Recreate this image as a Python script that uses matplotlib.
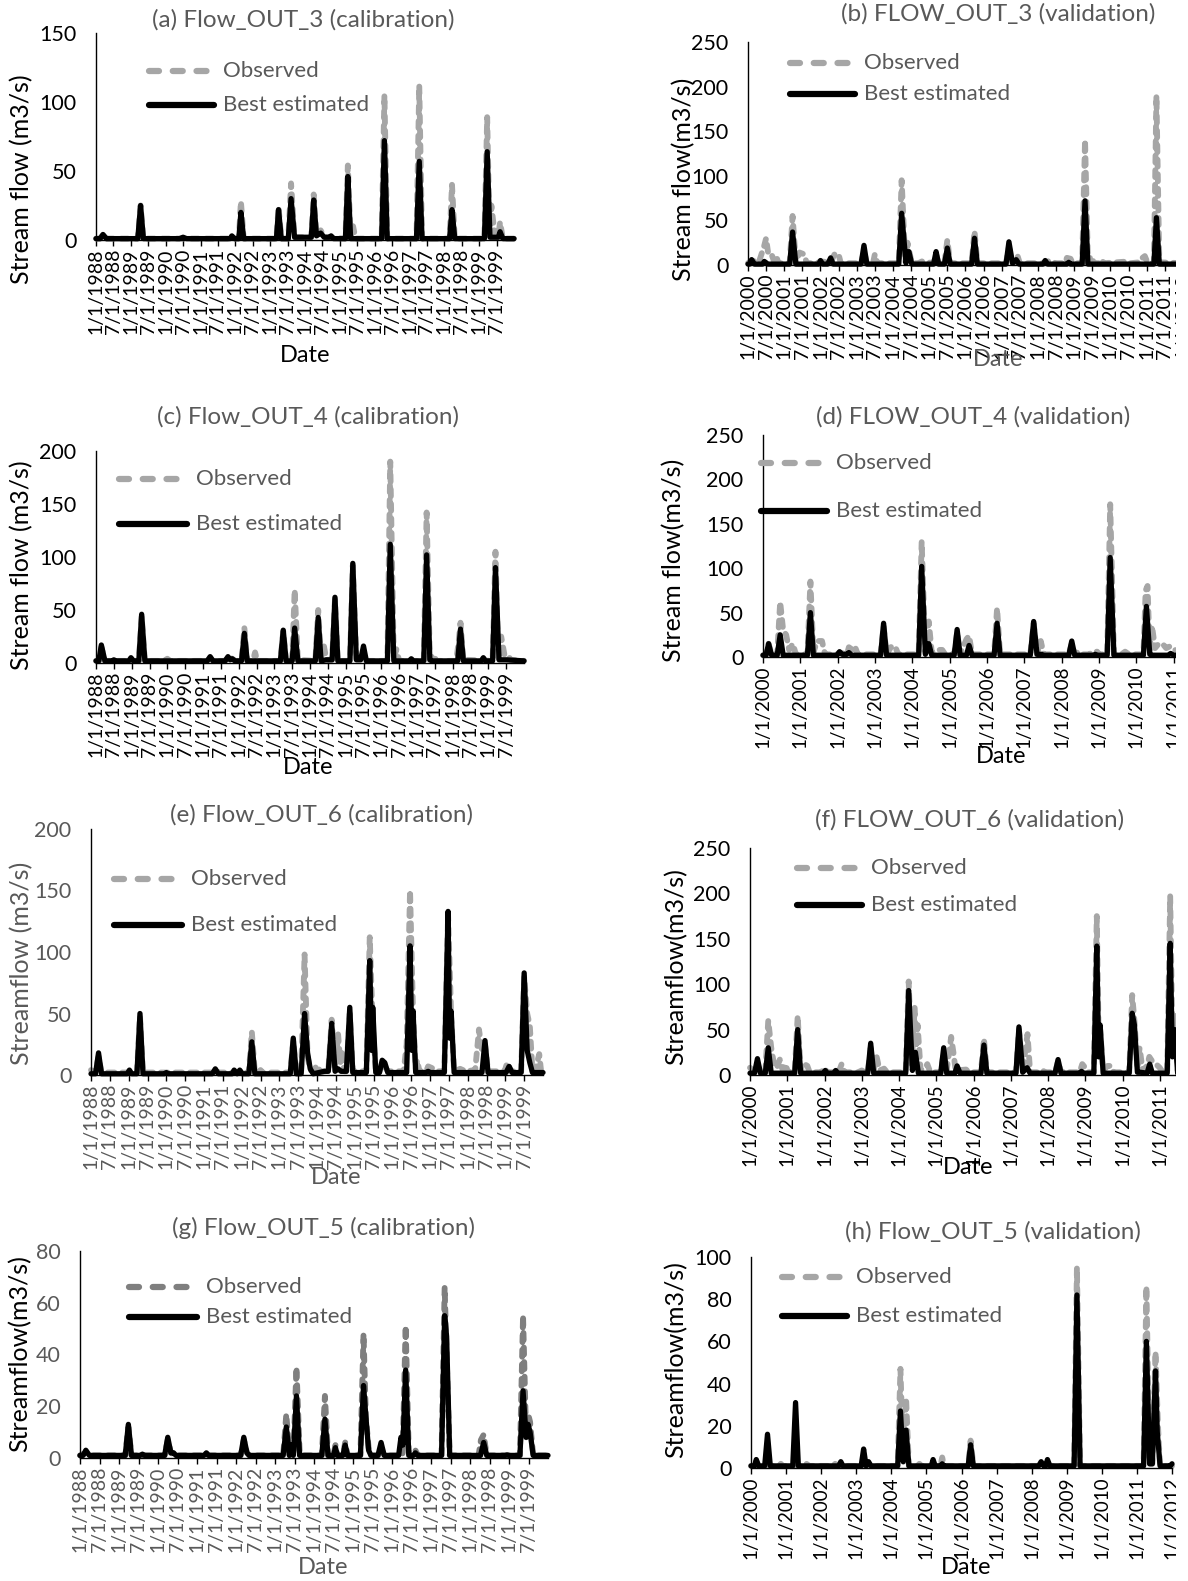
import matplotlib.pyplot as plt
from matplotlib.lines import Line2D
from matplotlib.patches import Rectangle

plt.rcParams['font.family'] = ['Lato', 'DejaVu Sans']

# ---- data: (decimal year, flow m3/s) ----
sim_a = [(1988.0, 1), (1988.12, 1), (1988.2, 4), (1988.3, 1), (1989.2, 1), (1989.28, 25), (1989.36, 1),
         (1990.4, 1), (1990.5, 2), (1990.6, 1), (1991.85, 1), (1991.9, 3), (1991.98, 1),
         (1992.1, 1), (1992.16, 20), (1992.24, 1), (1993.18, 1), (1993.24, 22), (1993.32, 1),
         (1993.52, 1), (1993.6, 30), (1993.7, 2), (1994.18, 2), (1994.25, 29), (1994.33, 3),
         (1994.45, 5), (1994.55, 2), (1994.7, 2), (1994.75, 3), (1994.82, 1), (1995.16, 1),
         (1995.23, 46), (1995.31, 1), (1996.2, 1), (1996.28, 72), (1996.36, 1), (1997.2, 1),
         (1997.28, 57), (1997.36, 1), (1998.15, 1), (1998.22, 22), (1998.3, 1), (1999.15, 1),
         (1999.23, 64), (1999.31, 2), (1999.55, 2), (1999.6, 6), (1999.68, 1), (2000.0, 1)]
obs_a = [(1988.0, 1), (1988.12, 1), (1988.2, 4), (1988.3, 1), (1989.2, 1), (1989.28, 25), (1989.36, 1),
         (1992.1, 1), (1992.16, 28), (1992.24, 1), (1993.18, 1), (1993.24, 24), (1993.32, 1),
         (1993.52, 1), (1993.6, 41), (1993.7, 2), (1994.18, 2), (1994.25, 33), (1994.33, 3),
         (1994.45, 7), (1994.55, 2), (1995.16, 1), (1995.23, 54), (1995.31, 2), (1995.38, 10),
         (1995.45, 1), (1996.2, 1), (1996.28, 105), (1996.36, 1), (1997.2, 1), (1997.28, 112),
         (1997.36, 1), (1998.15, 1), (1998.22, 40), (1998.3, 1), (1999.15, 1), (1999.23, 89),
         (1999.3, 3), (1999.35, 25), (1999.45, 3), (1999.55, 3), (1999.6, 13), (1999.68, 1), (2000.0, 1)]

sim_b = [(2000.0, 1), (2000.05, 1), (2000.1, 6), (2000.18, 1), (2000.4, 1), (2000.45, 4), (2000.55, 1),
         (2001.15, 1), (2001.23, 37), (2001.32, 1), (2001.95, 1), (2002.0, 5), (2002.06, 1),
         (2002.2, 1), (2002.28, 8), (2002.35, 1), (2003.12, 1), (2003.2, 22), (2003.28, 1),
         (2004.16, 1), (2004.24, 58), (2004.36, 2), (2004.44, 15), (2004.52, 1), (2005.12, 1),
         (2005.19, 15), (2005.26, 1), (2005.42, 1), (2005.5, 19), (2005.58, 1), (2006.17, 1),
         (2006.25, 30), (2006.33, 1), (2007.12, 1), (2007.2, 26), (2007.3, 2), (2007.4, 6),
         (2007.48, 1), (2008.14, 1), (2008.2, 5), (2008.27, 1), (2008.8, 1), (2008.85, 3),
         (2008.9, 1), (2009.22, 1), (2009.3, 72), (2009.38, 1), (2011.2, 1), (2011.27, 53),
         (2011.35, 1), (2012.0, 1)]
obs_b = [(2000.0, 2), (2000.1, 5), (2000.3, 3), (2000.45, 22), (2000.5, 30), (2000.56, 12), (2000.65, 12),
         (2000.72, 4), (2000.78, 10), (2000.84, 2), (2001.15, 2), (2001.23, 55), (2001.32, 3),
         (2001.42, 14), (2001.55, 12), (2001.62, 2), (2001.9, 2), (2002.0, 4), (2002.28, 3),
         (2002.4, 13), (2002.5, 12), (2002.56, 2), (2003.12, 2), (2003.2, 15), (2003.28, 2),
         (2003.45, 2), (2003.5, 12), (2003.57, 2), (2004.16, 2), (2004.24, 95), (2004.34, 3),
         (2004.4, 25), (2004.52, 2), (2004.7, 2), (2004.8, 4), (2005.12, 2), (2005.19, 12),
         (2005.26, 2), (2005.42, 2), (2005.5, 28), (2005.58, 2), (2006.17, 2), (2006.25, 38),
         (2006.33, 2), (2007.12, 2), (2007.2, 20), (2007.3, 2), (2007.38, 2), (2007.44, 10),
         (2007.5, 2), (2008.24, 2), (2008.3, 5), (2008.5, 2), (2008.75, 2), (2008.8, 8),
         (2008.9, 7), (2008.96, 2), (2009.22, 2), (2009.3, 140), (2009.38, 3), (2009.46, 10),
         (2009.55, 2), (2009.7, 2), (2009.75, 6), (2009.82, 2), (2010.5, 4), (2010.55, 2),
         (2010.8, 3), (2010.85, 7), (2010.95, 10), (2011.02, 3), (2011.2, 2), (2011.27, 190),
         (2011.35, 3), (2012.0, 2)]

sim_c = [(1988.0, 2), (1988.08, 2), (1988.15, 17), (1988.25, 2), (1988.45, 2), (1988.5, 3), (1988.56, 2),
         (1988.92, 2), (1988.98, 5), (1989.05, 2), (1989.2, 2), (1989.28, 46), (1989.37, 2),
         (1991.12, 2), (1991.2, 6), (1991.28, 2), (1991.62, 2), (1991.7, 6), (1991.76, 3),
         (1991.82, 4), (1991.9, 2), (1992.08, 2), (1992.16, 28), (1992.24, 2), (1993.17, 2),
         (1993.25, 31), (1993.33, 2), (1993.5, 2), (1993.57, 33), (1993.66, 2), (1994.15, 2),
         (1994.23, 43), (1994.31, 2), (1994.45, 3), (1994.62, 3), (1994.7, 62), (1994.78, 2),
         (1995.12, 2), (1995.2, 94), (1995.3, 3), (1995.42, 3), (1995.5, 16), (1995.58, 2),
         (1996.17, 2), (1996.25, 112), (1996.35, 2), (1996.78, 2), (1996.84, 4), (1996.9, 2),
         (1997.19, 2), (1997.27, 102), (1997.36, 3), (1997.42, 2), (1998.14, 2), (1998.22, 32),
         (1998.3, 2), (1998.8, 2), (1998.86, 5), (1998.92, 2), (1999.12, 2), (1999.2, 90),
         (1999.3, 3), (1999.5, 3), (2000.0, 2)]
obs_c = [(1988.0, 2), (1988.08, 2), (1988.15, 15), (1988.25, 2), (1989.2, 2), (1989.28, 44), (1989.37, 2),
         (1989.9, 2), (1990.0, 4), (1990.08, 2), (1991.12, 2), (1991.2, 5), (1991.28, 2),
         (1991.62, 2), (1991.7, 6), (1991.82, 4), (1991.9, 2), (1992.08, 2), (1992.16, 33),
         (1992.24, 2), (1992.4, 2), (1992.46, 10), (1992.52, 2), (1993.17, 2), (1993.25, 30),
         (1993.33, 2), (1993.5, 2), (1993.57, 69), (1993.66, 3), (1994.15, 2), (1994.23, 50),
         (1994.31, 3), (1994.38, 18), (1994.46, 3), (1994.62, 3), (1994.7, 60), (1994.78, 2),
         (1995.12, 2), (1995.2, 92), (1995.3, 3), (1995.42, 3), (1995.5, 10), (1995.58, 2),
         (1996.17, 2), (1996.25, 190), (1996.35, 3), (1996.42, 13), (1996.5, 2), (1997.19, 2),
         (1997.27, 142), (1997.36, 3), (1997.46, 8), (1997.54, 2), (1998.1, 2), (1998.16, 18),
         (1998.22, 38), (1998.3, 3), (1998.4, 3), (1999.12, 2), (1999.2, 105), (1999.28, 3),
         (1999.36, 25), (1999.45, 8), (1999.55, 8), (1999.62, 3), (2000.0, 2)]

sim_d = [(2000.0, 2), (2000.08, 2), (2000.15, 15), (2000.23, 2), (2000.38, 2), (2000.46, 25), (2000.54, 2),
         (2001.19, 2), (2001.27, 50), (2001.35, 2), (2001.98, 2), (2002.05, 6), (2002.12, 3),
         (2002.25, 3), (2002.3, 5), (2002.38, 2), (2003.15, 2), (2003.23, 38), (2003.31, 2),
         (2004.17, 2), (2004.25, 102), (2004.35, 3), (2004.44, 15), (2004.52, 2), (2005.12, 2),
         (2005.2, 31), (2005.28, 2), (2005.45, 2), (2005.52, 13), (2005.6, 2), (2006.19, 2),
         (2006.27, 38), (2006.35, 2), (2007.16, 2), (2007.25, 40), (2007.34, 3), (2007.46, 3),
         (2007.52, 2), (2008.19, 2), (2008.27, 18), (2008.35, 2), (2008.85, 2), (2008.9, 3),
         (2008.96, 2), (2009.22, 2), (2009.3, 112), (2009.4, 2), (2010.19, 2), (2010.27, 57),
         (2010.36, 3), (2010.42, 2), (2010.85, 2), (2010.92, 4), (2011.0, 2), (2012.0, 2)]
obs_d = [(2000.0, 2), (2000.08, 2), (2000.15, 15), (2000.23, 3), (2000.38, 3), (2000.46, 62), (2000.54, 30),
         (2000.62, 25), (2000.7, 8), (2000.8, 15), (2000.88, 3), (2001.19, 3), (2001.27, 85),
         (2001.35, 5), (2001.45, 18), (2001.58, 18), (2001.66, 3), (2001.98, 3), (2002.05, 5),
         (2002.25, 3), (2002.3, 11), (2002.4, 8), (2002.46, 12), (2002.54, 3), (2003.15, 3),
         (2003.23, 35), (2003.31, 3), (2003.44, 12), (2003.54, 12), (2003.62, 3), (2004.17, 3),
         (2004.25, 130), (2004.35, 5), (2004.44, 40), (2004.52, 5), (2004.7, 8), (2004.8, 8),
         (2004.88, 3), (2005.12, 3), (2005.2, 28), (2005.28, 3), (2005.45, 20), (2005.52, 24),
         (2005.6, 3), (2006.19, 3), (2006.27, 55), (2006.35, 3), (2007.16, 3), (2007.25, 38),
         (2007.34, 3), (2007.44, 18), (2007.52, 3), (2008.19, 3), (2008.27, 15), (2008.35, 3),
         (2008.45, 6), (2008.55, 3), (2008.75, 3), (2008.8, 6), (2008.95, 6), (2009.0, 3),
         (2009.22, 3), (2009.3, 172), (2009.4, 3), (2009.6, 3), (2009.7, 6), (2009.8, 3),
         (2010.19, 3), (2010.25, 75), (2010.3, 80), (2010.36, 5), (2010.42, 35), (2010.5, 10),
         (2010.6, 15), (2010.7, 15), (2010.8, 10), (2010.9, 12), (2011.0, 8), (2012.0, 3)]

sim_e = [(1988.0, 1), (1988.12, 1), (1988.2, 18), (1988.28, 1), (1988.96, 1), (1989.02, 4), (1989.08, 1),
         (1989.22, 1), (1989.3, 50), (1989.38, 1), (1989.95, 1), (1990.0, 2), (1990.05, 1),
         (1991.22, 1), (1991.3, 5), (1991.38, 1), (1991.75, 1), (1991.8, 4), (1991.88, 1),
         (1991.95, 4), (1992.02, 1), (1992.19, 1), (1992.27, 27), (1992.35, 1), (1993.29, 1),
         (1993.37, 30), (1993.45, 1), (1993.58, 1), (1993.67, 50), (1993.75, 18), (1993.82, 5),
         (1993.9, 1), (1994.2, 3), (1994.3, 3), (1994.39, 42), (1994.48, 3), (1994.56, 5),
         (1994.64, 3), (1994.78, 3), (1994.87, 55), (1994.95, 2), (1995.31, 2), (1995.4, 93),
         (1995.45, 20), (1995.48, 55), (1995.56, 2), (1995.66, 2), (1995.73, 12), (1995.8, 10),
         (1995.88, 2), (1996.38, 2), (1996.47, 105), (1996.52, 20), (1996.55, 52), (1996.62, 2),
         (1996.9, 2), (1996.95, 3), (1997.0, 2), (1997.38, 2), (1997.48, 133), (1997.52, 30),
         (1997.56, 52), (1997.64, 2), (1998.38, 2), (1998.46, 28), (1998.54, 2), (1999.02, 2),
         (1999.1, 7), (1999.18, 2), (1999.42, 2), (1999.5, 83), (1999.58, 20), (1999.65, 10),
         (1999.72, 2), (2000.0, 2)]
obs_e = [(1988.0, 4), (1988.12, 2), (1988.2, 15), (1988.28, 2), (1989.22, 2), (1989.3, 48), (1989.38, 2),
         (1990.0, 2), (1991.22, 2), (1991.3, 4), (1991.38, 2), (1992.19, 2), (1992.27, 35),
         (1992.35, 2), (1992.45, 2), (1992.5, 4), (1992.56, 2), (1993.29, 2), (1993.37, 28),
         (1993.45, 3), (1993.58, 3), (1993.67, 98), (1993.75, 15), (1993.82, 4), (1993.9, 3),
         (1994.0, 8), (1994.08, 3), (1994.3, 3), (1994.39, 45), (1994.48, 5), (1994.56, 33),
         (1994.62, 10), (1994.66, 20), (1994.72, 3), (1994.78, 3), (1994.87, 50), (1994.95, 3),
         (1995.31, 3), (1995.4, 112), (1995.48, 40), (1995.56, 3), (1995.66, 3), (1995.73, 10),
         (1995.88, 3), (1996.3, 3), (1996.38, 25), (1996.47, 150), (1996.55, 50), (1996.62, 5),
         (1996.66, 12), (1996.72, 3), (1996.9, 3), (1996.95, 7), (1997.1, 5), (1997.2, 3),
         (1997.38, 3), (1997.48, 130), (1997.56, 50), (1997.64, 3), (1997.8, 5), (1997.95, 3),
         (1998.2, 4), (1998.3, 37), (1998.38, 20), (1998.46, 25), (1998.54, 3), (1998.7, 3),
         (1998.98, 3), (1999.05, 10), (1999.15, 3), (1999.42, 3), (1999.5, 80), (1999.58, 50),
         (1999.65, 40), (1999.72, 3), (1999.8, 5), (1999.9, 17), (1999.95, 3), (2000.0, 3)]

sim_f = [(2000.0, 2), (2000.12, 2), (2000.2, 18), (2000.28, 2), (2000.41, 2), (2000.49, 30), (2000.57, 2),
         (2001.2, 2), (2001.28, 50), (2001.36, 2), (2001.96, 2), (2002.02, 5), (2002.08, 2),
         (2002.24, 2), (2002.3, 5), (2002.36, 2), (2003.16, 2), (2003.24, 35), (2003.32, 2),
         (2004.18, 2), (2004.26, 93), (2004.36, 5), (2004.44, 25), (2004.52, 2), (2005.12, 2),
         (2005.2, 30), (2005.28, 2), (2005.5, 2), (2005.56, 10), (2005.64, 2), (2006.2, 2),
         (2006.28, 33), (2006.36, 2), (2007.14, 2), (2007.22, 53), (2007.32, 3), (2007.44, 8),
         (2007.52, 2), (2008.19, 2), (2008.27, 17), (2008.35, 2), (2008.85, 2), (2008.9, 4),
         (2008.96, 2), (2009.23, 2), (2009.31, 142), (2009.36, 20), (2009.4, 55), (2009.48, 2),
         (2010.18, 2), (2010.26, 68), (2010.32, 55), (2010.4, 3), (2010.48, 3), (2010.66, 2),
         (2010.73, 12), (2010.8, 2), (2011.2, 2), (2011.28, 145), (2011.34, 20), (2011.4, 50),
         (2011.48, 2), (2012.0, 2)]
obs_f = [(2000.0, 8), (2000.12, 3), (2000.2, 12), (2000.28, 3), (2000.41, 3), (2000.49, 60), (2000.57, 30),
         (2000.65, 10), (2000.72, 8), (2000.8, 17), (2000.88, 5), (2000.95, 12), (2001.02, 3),
         (2001.2, 3), (2001.28, 65), (2001.36, 5), (2001.46, 12), (2001.54, 10), (2001.6, 3),
         (2001.92, 3), (2001.98, 8), (2002.08, 3), (2002.38, 3), (2002.46, 12), (2002.54, 3),
         (2002.9, 3), (2003.0, 5), (2003.08, 3), (2003.16, 3), (2003.24, 30), (2003.32, 5),
         (2003.4, 20), (2003.48, 5), (2003.6, 7), (2003.68, 3), (2004.18, 3), (2004.26, 103),
         (2004.34, 10), (2004.42, 75), (2004.46, 30), (2004.5, 55), (2004.58, 5), (2004.7, 8),
         (2004.76, 12), (2004.84, 3), (2005.12, 3), (2005.2, 25), (2005.28, 5), (2005.4, 42),
         (2005.46, 25), (2005.52, 5), (2005.8, 6), (2005.88, 3), (2006.2, 3), (2006.28, 40),
         (2006.36, 3), (2006.9, 3), (2006.96, 4), (2007.02, 3), (2007.14, 3), (2007.22, 50),
         (2007.32, 5), (2007.45, 45), (2007.52, 3), (2007.8, 3), (2007.86, 5), (2007.92, 3),
         (2008.19, 3), (2008.27, 15), (2008.35, 3), (2008.5, 5), (2008.58, 3), (2008.85, 3),
         (2008.92, 12), (2009.0, 8), (2009.08, 3), (2009.23, 3), (2009.31, 175), (2009.36, 40),
         (2009.4, 50), (2009.48, 5), (2009.6, 10), (2009.68, 10), (2009.76, 3), (2010.18, 3),
         (2010.26, 88), (2010.32, 60), (2010.4, 10), (2010.46, 30), (2010.54, 5), (2010.66, 10),
         (2010.72, 20), (2010.8, 15), (2010.9, 12), (2011.0, 8), (2011.08, 3), (2011.2, 3),
         (2011.28, 197), (2011.34, 40), (2011.42, 65), (2011.48, 5), (2012.0, 3)]

sim_g = [(1988.0, 1), (1988.08, 1), (1988.15, 3), (1988.24, 1), (1989.16, 1), (1989.24, 13), (1989.32, 1),
         (1989.55, 1), (1989.6, 1.5), (1989.65, 1), (1990.17, 1), (1990.25, 8), (1990.33, 2),
         (1990.4, 2), (1990.46, 1), (1991.18, 1), (1991.24, 2), (1991.3, 1), (1992.12, 1),
         (1992.2, 8), (1992.28, 2), (1992.34, 1), (1993.21, 1), (1993.29, 12), (1993.37, 1),
         (1993.42, 5), (1993.47, 1), (1993.55, 24), (1993.63, 1), (1994.2, 1), (1994.28, 15),
         (1994.36, 1), (1994.5, 1), (1994.55, 4), (1994.6, 1), (1994.74, 1), (1994.8, 5),
         (1994.86, 1), (1995.19, 1), (1995.27, 28), (1995.33, 16), (1995.4, 3), (1995.46, 1),
         (1995.64, 1), (1995.72, 6), (1995.8, 1), (1996.17, 1), (1996.23, 8), (1996.28, 5),
         (1996.35, 34), (1996.43, 1), (1996.55, 1), (1996.6, 2), (1996.66, 1), (1997.27, 1),
         (1997.35, 55), (1997.4, 47), (1997.48, 1), (1998.27, 1), (1998.35, 6), (1998.43, 1),
         (1998.9, 1), (1998.95, 1.2), (1999.0, 1), (1999.28, 1), (1999.36, 26), (1999.44, 8),
         (1999.49, 13), (1999.54, 10), (1999.62, 1), (2000.0, 1)]
obs_g = [(1988.0, 1), (1988.15, 2), (1988.24, 1), (1989.16, 1), (1989.24, 12), (1989.32, 1),
         (1990.17, 1), (1990.25, 7), (1990.33, 2), (1990.46, 1), (1992.12, 1), (1992.2, 7),
         (1992.28, 2), (1992.34, 1), (1993.21, 1), (1993.29, 17), (1993.37, 1), (1993.47, 1),
         (1993.55, 35), (1993.63, 3), (1993.7, 1), (1994.2, 1), (1994.28, 24), (1994.36, 1),
         (1994.5, 1), (1994.55, 5), (1994.6, 1), (1994.74, 1), (1994.8, 6), (1994.86, 1),
         (1995.19, 1), (1995.27, 48), (1995.33, 16), (1995.4, 4), (1995.46, 1), (1995.64, 1),
         (1995.72, 4), (1995.8, 1), (1996.27, 1), (1996.35, 51), (1996.43, 2), (1996.55, 2),
         (1996.6, 3), (1996.66, 1), (1997.27, 1), (1997.35, 66), (1997.4, 40), (1997.48, 1),
         (1998.22, 1), (1998.28, 7), (1998.35, 9), (1998.43, 1), (1999.28, 1), (1999.36, 55),
         (1999.44, 8), (1999.49, 17), (1999.54, 14), (1999.62, 1), (2000.0, 1)]

sim_h = [(2000.0, 1), (2000.1, 1), (2000.15, 4), (2000.22, 1), (2000.39, 1), (2000.47, 16), (2000.55, 1),
         (2001.19, 1), (2001.27, 31), (2001.35, 1), (2002.5, 1), (2002.56, 3), (2002.62, 1),
         (2003.14, 1), (2003.21, 9), (2003.28, 1), (2003.35, 3), (2003.42, 1), (2004.18, 1),
         (2004.26, 27), (2004.34, 3), (2004.42, 18), (2004.5, 1), (2005.14, 1), (2005.19, 4),
         (2005.25, 1), (2005.4, 1), (2005.45, 2), (2005.5, 1), (2006.19, 1), (2006.26, 11),
         (2006.34, 1), (2008.2, 1), (2008.27, 3), (2008.34, 1), (2008.4, 1), (2008.45, 4),
         (2008.52, 1), (2009.21, 1), (2009.29, 82), (2009.38, 1), (2011.19, 1), (2011.27, 60),
         (2011.36, 2), (2011.44, 2), (2011.53, 46), (2011.58, 17), (2011.66, 1), (2011.95, 1),
         (2012.0, 2)]
obs_h = [(2000.0, 1), (2000.8, 1), (2000.85, 2), (2000.9, 1), (2001.5, 1), (2001.58, 2), (2001.66, 1),
         (2002.34, 1), (2002.4, 2), (2002.46, 1), (2004.18, 1), (2004.26, 47), (2004.34, 3),
         (2004.42, 33), (2004.5, 1), (2004.75, 1), (2004.8, 2), (2004.86, 1), (2005.4, 1),
         (2005.45, 5), (2005.5, 1), (2006.19, 1), (2006.26, 13), (2006.34, 1), (2009.21, 1),
         (2009.29, 95), (2009.38, 1), (2011.19, 1), (2011.27, 86), (2011.36, 2), (2011.44, 2),
         (2011.53, 55), (2011.6, 20), (2011.66, 1), (2012.0, 1)]

titles = ['(a) Flow_OUT_3 (calibration)', '(b) FLOW_OUT_3 (validation)',
          '(c) Flow_OUT_4 (calibration)', '(d) FLOW_OUT_4 (validation)',
          '(e) Flow_OUT_6 (calibration)', '(f) FLOW_OUT_6 (validation)',
          '(g) Flow_OUT_5 (calibration)', '(h) Flow_OUT_5 (validation)']
ylabels = ['Stream flow (m3/s)', 'Stream flow(m3/s)', 'Stream flow (m3/s)', 'Stream flow(m3/s)',
           'Streamflow (m3/s)', 'Streamflow(m3/s)', 'Streamflow(m3/s)', 'Streamflow(m3/s)']
ymax = [150, 250, 200, 250, 200, 250, 80, 100]
ystep = [50, 50, 50, 50, 50, 50, 20, 20]
cal_years = list(range(1988, 2000))
val_years = list(range(2000, 2013))

W, H = 1188, 1581
GREY_TXT = '#595959'
OBS_LIGHT = '#a6a6a6'
OBS_DARK = '#7f7f7f'

# layout in pixels: axis left, axis right, top of y range, zero line
boxes = [(96, 514, 33, 240), (748, 1201, 42, 265),
         (96, 524, 451, 663), (763, 1211, 435, 657),
         (91, 543, 829, 1075), (750, 1197, 848, 1075),
         (80, 548, 1251, 1458), (751, 1172, 1257, 1468)]
title_xy = [(303, 20), (998, 14), (308, 417), (973, 417), (321, 815), (970, 820), (323, 1228), (993, 1232)]
date_xy = [(305, 355), (998, 360), (308, 767), (1001, 757), (336, 1178), (968, 1167), (323, 1568), (966, 1568)]
ylab_xy = [(22, 179), (684, 179), (22, 565), (674, 560), (22, 963), (676, 967), (20, 1354), (676, 1360)]
legend_px = [(149, 214, 71, 105), (790, 855, 63, 94), (119, 187, 479, 524), (761, 827, 463, 511),
             (114, 182, 879, 925), (797, 862, 868, 905), (129, 197, 1287, 1317), (782, 847, 1277, 1316)]

sims = [sim_a, sim_b, sim_c, sim_d, sim_e, sim_f, sim_g, sim_h]
obss = [obs_a, obs_b, obs_c, obs_d, obs_e, obs_f, obs_g, obs_h]


def fx(x):
    return x / W


def fy(y):
    return 1 - y / H


fig = plt.figure(figsize=(W / 100, H / 100), dpi=100)

for i in range(8):
    xl, xr, yt, y0 = boxes[i]
    ax = fig.add_axes([fx(xl), fy(y0), fx(xr) - fx(xl), fy(yt) - fy(y0)])
    cal = i % 2 == 0
    grey_axis = i in (4, 6)
    obs_col = OBS_DARK if i == 6 else OBS_LIGHT
    tick_col = GREY_TXT if grey_axis else 'black'

    ox = [p[0] for p in obss[i]]
    oy = [p[1] for p in obss[i]]
    sx = [p[0] for p in sims[i]]
    sy = [p[1] for p in sims[i]]
    ax.plot(ox, oy, color=obs_col, lw=4.2, ls=(0, (1.2, 1.3)),
            dash_capstyle='round', solid_joinstyle='round', clip_on=False, zorder=2)
    ax.plot(sx, sy, color='black', lw=3.8, solid_joinstyle='round',
            solid_capstyle='round', clip_on=False, zorder=3)

    if cal:
        ax.set_xlim(1988, 2000)
        ticks, labels = [], []
        for yr in cal_years:
            ticks += [yr, yr + 0.5]
            labels += ['1/1/%d' % yr, '7/1/%d' % yr]
        fs_x = 14
    elif i == 1:
        ax.set_xlim(2000, 2012)
        ticks, labels = [], []
        for yr in val_years:
            ticks += [yr, yr + 0.5]
            labels += ['1/1/%d' % yr, '7/1/%d' % yr]
        fs_x = 14
    else:
        ax.set_xlim(2000, 2012)
        ticks = val_years
        labels = ['1/1/%d' % yr for yr in val_years]
        fs_x = 13.5
    ax.set_xticks(ticks)
    ax.set_xticklabels(labels, rotation=90, fontsize=fs_x, color=tick_col)
    ax.set_ylim(0, ymax[i])
    ax.set_yticks(range(0, ymax[i] + 1, ystep[i]))
    ax.tick_params(axis='y', length=0, pad=14, labelsize=15.5, labelcolor=tick_col)
    ax.tick_params(axis='x', direction='out', length=4, width=1, pad=2)
    for s in ('top', 'right'):
        ax.spines[s].set_visible(False)
    ax.spines['left'].set_linewidth(1.0)
    ax.spines['bottom'].set_linewidth(1.0)
    ax.patch.set_alpha(0)

    # title, axis titles
    tx, ty = title_xy[i]
    fig.text(fx(tx), fy(ty), titles[i], ha='center', va='center', fontsize=17.5, color=GREY_TXT)
    dx, dy = date_xy[i]
    date_col = GREY_TXT if i in (1, 4, 6) else 'black'
    fig.text(fx(dx), fy(dy), 'Date', ha='center', va='center', fontsize=17, color=date_col)
    lx, ly = ylab_xy[i]
    fig.text(fx(lx), fy(ly), ylabels[i], ha='center', va='center', rotation=90,
             fontsize=18, color=GREY_TXT if i == 4 else 'black')

    # legend drawn like the spreadsheet one
    x0, x1, yo, yb = legend_px[i]
    fig.add_artist(Line2D([fx(x0), fx(x1)], [fy(yo), fy(yo)], transform=fig.transFigure,
                          color=obs_col, lw=4.5, ls=(0, (1.6, 2.2)), dash_capstyle='round'))
    fig.add_artist(Line2D([fx(x0), fx(x1)], [fy(yb), fy(yb)], transform=fig.transFigure,
                          color='black', lw=4.5, solid_capstyle='round'))
    fig.text(fx(x1 + 9), fy(yo), 'Observed', ha='left', va='center', fontsize=16, color=GREY_TXT)
    fig.text(fx(x1 + 9), fy(yb), 'Best estimated', ha='left', va='center', fontsize=16, color=GREY_TXT)

# the source image is cut on its right side
fig.add_artist(Rectangle((fx(1176), 0), 1 - fx(1176), 1, transform=fig.transFigure,
                         facecolor='white', edgecolor='none', zorder=20))

fig.savefig('out.png', dpi=100)
